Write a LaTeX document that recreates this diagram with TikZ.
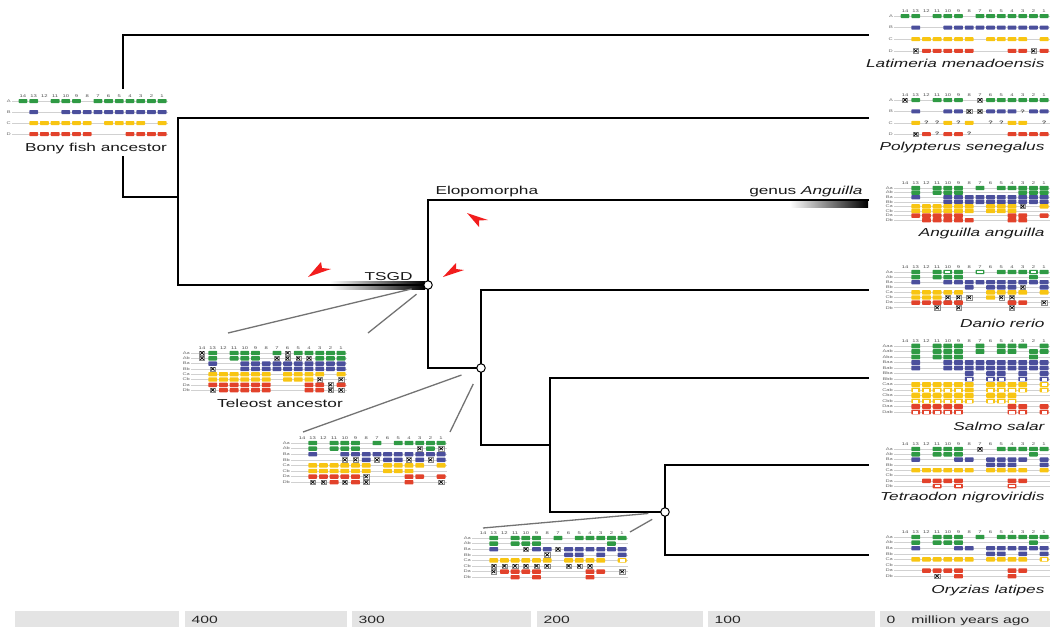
\documentclass[tikz,border=0pt]{standalone}
\usepackage{fontspec}
\newfontfamily\labfont[FakeStretch=1.5]{Liberation Sans}
\definecolor{geneA}{HTML}{2F9A44}
\definecolor{geneB}{HTML}{4B4F9C}
\definecolor{geneC}{HTML}{F8C512}
\definecolor{geneD}{HTML}{E2422B}
\definecolor{arrowred}{HTML}{F21D1D}
\definecolor{barbg}{HTML}{E4E4E4}
\begin{document}
\begin{tikzpicture}[x=1pt,y=-1pt,
    branch/.style={line width=2.2pt,line cap=rect},
    guide/.style={black!55,line width=1.3pt},
    tnode/.style={circle,draw,line width=1pt,fill=white,inner sep=0pt,minimum size=8.5pt},
    taxon/.style={font=\labfont\itshape\fontsize{11.5}{12}\selectfont,text=black!90,anchor=base east},
    clade/.style={font=\labfont\fontsize{11.5}{12}\selectfont,text=black!90},
    colnum/.style={font=\labfont\fontsize{3.9}{4}\selectfont,text=black!70,inner sep=0pt},
    rowlab/.style={font=\labfont\fontsize{3.8}{4}\selectfont,text=black!60,inner sep=0pt,anchor=east},
    rowline/.style={black!18,line width=0.5pt},
    cell/.style={rounded corners=0.7pt},
    axislab/.style={font=\labfont\fontsize{10.5}{11}\selectfont,text=black!85,anchor=base west}]
\useasboundingbox (0,0) rectangle (1054,627);
\def\dx{10.7}
\def\ch{2}
\def\genehead{\foreach \n [count=\k from 0] in {14,13,...,1}
    \node[colnum] at (\gx+\k*\dx,\gy-4.9) {\n};}
\def\generow#1#2#3#4{% row index, colour, label, codes for columns 14..1
  \pgfmathsetmacro\ry{\gy+#1*\gdy}
  \draw[rowline] (\gx-11,\ry) -- (\gx+13*\dx+6,\ry);
  \node[rowlab] at (\gx-12,\ry) {#3};
  \foreach \c [count=\k from 0] in {#4}{
    \pgfmathsetmacro\cx{\gx+\k*\dx}
    \ifcase\c\relax
    \or \fill[#2,cell] (\cx-4.4,\ry-\ch) rectangle (\cx+4.4,\ry+\ch);
    \or \draw[black!45,line width=0.3pt] (\cx-2.6,\ry-2.2) rectangle (\cx+2.6,\ry+2.2);
        \draw[line width=0.7pt] (\cx-1.8,\ry-1.6) -- (\cx+1.8,\ry+1.6) (\cx-1.8,\ry+1.6) -- (\cx+1.8,\ry-1.6);
    \or \node[font=\labfont\bfseries\fontsize{5}{5}\selectfont,inner sep=0pt,text=black!70] at (\cx,\ry) {?};
    \or \fill[#2,cell] (\cx-4.4,\ry-\ch) rectangle (\cx+4.4,\ry+\ch);
        \fill[white] (\cx-2.6,\ry-\ch+0.9) rectangle (\cx+2.6,\ry+\ch-0.9);
    \fi}}
% time axis
\foreach \a/\b in {15/179,185/347,352/531,537/703,708/875,880/1050}
  \fill[barbg] (\a,611) rectangle (\b,627);
\node[axislab] (t400) at (188,623) {400};
\node[axislab] (t300) at (355,623) {300};
\node[axislab] (t200) at (540,623) {200};
\node[axislab] (t100) at (711,623) {100};
\node[axislab] (t0) at (883,623) {0\hspace{16pt}million years ago};
%===========================================
% branch ends and internal nodes
\coordinate (tlat) at (868,35);
\coordinate (tpol) at (868,118);
\coordinate (tang) at (868,200);
\coordinate (tdan) at (868,290);
\coordinate (tsal) at (868,378);
\coordinate (ttet) at (868,465);
\coordinate (tory) at (868,555);
\coordinate (root) at (123,197);
\coordinate (bonytop) at (123,88);
\coordinate (n1) at (178,197);
\coordinate (n3) at (550,445);
\shade[left color=white,right color=black] (330,281) rectangle (425,289.5);
\shade[left color=white,right color=black] (790,199) rectangle (868,207);
\node[clade,anchor=base] (bony) at (96,151) {Bony fish ancestor};
\node[tnode] (tsgd) at (428,285) {};
\node[tnode] (n2) at (481,368) {};
\node[tnode] (n4) at (665,512) {};
\draw[branch] (tlat) -| (bonytop);
\draw[branch] (bony.south -| root) -- (root) -- (n1);
\draw[branch] (tpol) -| (n1) |- (tsgd);
\draw[branch] (tang) -| (tsgd);
\draw[branch] (tsgd) |- (n2);
\draw[branch] (tdan) -| (n2);
\draw[branch] (n2) |- (n3);
\draw[branch] (tsal) -| (n3) |- (n4);
\draw[branch] (ttet) -| (n4);
\draw[branch] (n4) |- (tory);
% labels on the tree
\node[clade,anchor=base west] (elo) at (432,194) {Elopomorpha};
\node[clade,anchor=base east] (genang) at (866,194) {genus \textit{Anguilla}};
\node[clade,anchor=base west] (tsgdlab) at (361,280) {TSGD};
\fill[arrowred] (308,277) -- (321,262) -- (322,268) -- (331,269) -- cycle;
\fill[arrowred] (443,277) -- (456,263) -- (456,269) -- (464,270) -- cycle;
\fill[arrowred] (467,213) -- (488,220) -- (479,220.5) -- (479,227) -- cycle;
% ancestral clusters hang from their nodes
\coordinate (ta1) at (228,333);
\coordinate (ta2) at (368,333);
\coordinate (nb1) at (303,432);
\coordinate (nb2) at (450,432);
\coordinate (nc1) at (483,528);
\coordinate (nc2) at (630,532);
\draw[guide,shorten <=12pt] (tsgd) -- (ta1);
\draw[guide,shorten <=10pt] (tsgd) -- (ta2);
\draw[guide,shorten <=16pt] (n2) -- (nb1);
\draw[guide,shorten <=13pt] (n2) -- (nb2);
\draw[guide,shorten <=12pt] (n4) -- (nc1);
\draw[guide,shorten <=10pt] (n4) -- (nc2);
% bony fish ancestor
\def\gx{23}\def\gy{101}\def\gdy{11}
\genehead
\generow{0}{geneA}{A}{1,1,0,1,1,1,0,1,1,1,1,1,1,1}
\generow{1}{geneB}{B}{0,1,0,0,1,1,1,1,1,1,1,1,1,1}
\generow{2}{geneC}{C}{0,1,1,1,1,1,1,0,1,1,1,1,0,1}
\generow{3}{geneD}{D}{0,1,1,1,1,1,1,0,0,0,1,1,1,1}
% Latimeria
\def\gx{905}\def\gy{16}\def\gdy{11.6}
\genehead
\generow{0}{geneA}{A}{1,1,0,1,1,1,0,1,1,1,1,1,1,1}
\generow{1}{geneB}{B}{0,1,0,0,1,1,1,1,1,1,1,1,1,1}
\generow{2}{geneC}{C}{0,1,1,1,1,1,1,0,1,1,1,1,0,1}
\generow{3}{geneD}{D}{0,2,1,1,1,1,1,0,0,0,1,1,2,1}
\node[taxon] (lat) at (1048,67) {Latimeria menadoensis};
% Polypterus
\def\gx{905}\def\gy{100}\def\gdy{11.4}
\genehead
\generow{0}{geneA}{A}{2,1,0,1,1,1,0,2,1,1,1,1,1,1}
\generow{1}{geneB}{B}{0,1,0,0,1,1,2,2,1,1,1,3,1,1}
\generow{2}{geneC}{C}{0,1,3,3,1,3,1,0,3,3,1,1,0,3}
\generow{3}{geneD}{D}{0,2,1,3,1,1,3,0,0,0,1,1,1,1}
\node[taxon] (pol) at (1048,150) {Polypterus senegalus};
% Anguilla
\def\ch{2.2}
\def\gx{905}\def\gy{188}\def\gdy{4.6}
\genehead
\generow{0}{geneA}{Aa}{0,1,0,1,1,1,0,1,0,1,1,1,1,1}
\generow{1}{geneA}{Ab}{0,1,0,1,1,1,0,0,0,0,0,1,1,1}
\generow{2}{geneB}{Ba}{0,1,0,0,1,1,1,1,1,1,1,1,1,1}
\generow{3}{geneB}{Bb}{0,0,0,0,1,1,1,1,1,1,1,1,1,1}
\generow{4}{geneC}{Ca}{0,1,1,1,1,1,1,0,1,1,1,2,0,1}
\generow{5}{geneC}{Cb}{0,1,1,1,1,1,1,0,1,1,1,0,0,0}
\generow{6}{geneD}{Da}{0,1,1,1,1,1,0,0,0,0,1,1,0,1}
\generow{7}{geneD}{Db}{0,0,1,1,1,1,1,0,0,0,1,1,0,0}
\node[taxon] (ang) at (1048,236) {Anguilla anguilla};
% Danio
\def\gx{905}\def\gy{272}\def\gdy{5.1}
\genehead
\generow{0}{geneA}{Aa}{0,1,0,1,4,1,0,4,0,1,1,1,4,1}
\generow{1}{geneA}{Ab}{0,1,0,1,1,1,0,0,0,0,0,0,1,0}
\generow{2}{geneB}{Ba}{0,1,0,0,1,1,1,1,1,1,1,1,1,1}
\generow{3}{geneB}{Bb}{0,0,0,0,0,0,1,0,1,1,1,2,0,1}
\generow{4}{geneC}{Ca}{0,1,1,1,1,1,0,0,1,1,1,1,0,1}
\generow{5}{geneC}{Cb}{0,1,1,1,2,2,2,0,1,2,2,0,0,0}
\generow{6}{geneD}{Da}{0,1,1,1,1,1,0,0,0,0,1,1,0,2}
\generow{7}{geneD}{Db}{0,0,0,2,0,2,0,0,0,0,2,0,0,0}
\node[taxon] (dan) at (1048,327) {Danio rerio};
% Salmo
\def\ch{2.4}
\def\gx{905}\def\gy{346}\def\gdy{5.5}
\genehead
\generow{0}{geneA}{Aaa}{0,1,0,1,1,1,0,1,0,1,1,1,0,1}
\generow{1}{geneA}{Aab}{0,1,0,1,1,1,0,1,0,1,1,0,1,1}
\generow{2}{geneA}{Aba}{0,1,0,1,1,1,0,0,0,0,0,0,1,0}
\generow{3}{geneB}{Baa}{0,1,0,0,1,1,1,1,1,1,1,1,1,1}
\generow{4}{geneB}{Bab}{0,1,0,0,1,1,1,1,1,1,1,1,1,1}
\generow{5}{geneB}{Bba}{0,0,0,0,0,0,1,0,1,1,0,1,0,1}
\generow{6}{geneB}{Bbb}{0,0,0,0,0,0,4,0,4,4,0,4,0,4}
\generow{7}{geneC}{Caa}{0,1,1,1,1,1,1,0,1,1,1,1,0,4}
\generow{8}{geneC}{Cab}{0,4,4,4,4,4,1,0,4,4,4,4,0,4}
\generow{9}{geneC}{Cba}{0,1,1,1,1,1,1,0,1,1,1,0,0,0}
\generow{10}{geneC}{Cbb}{0,4,4,4,4,4,4,0,4,4,4,0,0,0}
\generow{11}{geneD}{Daa}{0,1,1,1,1,1,0,0,0,0,1,1,0,1}
\generow{12}{geneD}{Dab}{0,4,4,4,4,4,0,0,0,0,4,4,0,4}
\node[taxon] (sal) at (1048,430) {Salmo salar};
% Tetraodon
\def\ch{2.2}
\def\gx{905}\def\gy{449}\def\gdy{5.3}
\genehead
\generow{0}{geneA}{Aa}{0,1,0,1,1,1,0,2,0,1,1,1,1,1}
\generow{1}{geneA}{Ab}{0,1,0,1,1,1,0,0,0,0,0,0,1,0}
\generow{2}{geneB}{Ba}{0,1,0,0,0,1,1,0,1,1,1,1,0,1}
\generow{3}{geneB}{Bb}{0,0,0,0,0,0,0,0,1,1,1,0,0,1}
\generow{4}{geneC}{Ca}{0,1,1,1,1,1,1,0,1,1,1,1,0,1}
\generow{5}{geneC}{Cb}{0,0,0,0,0,0,0,0,0,0,0,0,0,0}
\generow{6}{geneD}{Da}{0,0,1,1,1,1,0,0,0,0,1,1,0,0}
\generow{7}{geneD}{Db}{0,0,0,4,0,4,0,0,0,0,4,0,0,0}
\node[taxon] (tet) at (1048,500) {Tetraodon nigroviridis};
% Oryzias
\def\gx{905}\def\gy{537}\def\gdy{5.6}
\genehead
\generow{0}{geneA}{Aa}{0,1,0,1,1,1,0,1,0,1,1,1,1,1}
\generow{1}{geneA}{Ab}{0,1,0,1,1,1,0,0,0,0,0,0,1,0}
\generow{2}{geneB}{Ba}{0,1,0,0,0,1,1,0,1,1,1,1,1,1}
\generow{3}{geneB}{Bb}{0,0,0,0,0,0,0,0,1,1,0,1,0,1}
\generow{4}{geneC}{Ca}{0,1,1,1,1,1,1,0,1,1,1,1,0,4}
\generow{5}{geneC}{Cb}{0,0,0,0,0,0,0,0,0,0,0,0,0,0}
\generow{6}{geneD}{Da}{0,0,1,1,1,1,0,0,0,0,1,1,0,0}
\generow{7}{geneD}{Db}{0,0,0,2,0,1,0,0,0,0,1,0,0,0}
\node[taxon] (ory) at (1048,593) {Oryzias latipes};
% teleost ancestor
\def\gx{202}\def\gy{353}\def\gdy{5.3}
\genehead
\generow{0}{geneA}{Aa}{2,1,0,1,1,1,0,1,2,1,1,1,1,1}
\generow{1}{geneA}{Ab}{2,1,0,1,1,1,0,2,2,2,2,1,1,1}
\generow{2}{geneB}{Ba}{0,1,0,0,1,1,1,1,1,1,1,1,1,1}
\generow{3}{geneB}{Bb}{0,2,0,0,1,1,1,1,1,1,1,1,1,1}
\generow{4}{geneC}{Ca}{0,1,1,1,1,1,1,0,1,1,1,1,0,1}
\generow{5}{geneC}{Cb}{0,1,1,1,1,1,1,0,1,1,1,2,0,2}
\generow{6}{geneD}{Da}{0,1,1,1,1,1,1,0,0,0,1,1,2,1}
\generow{7}{geneD}{Db}{0,2,1,1,1,1,1,0,0,0,1,1,2,2}
\node[clade,anchor=base] (tele) at (280,407) {Teleost ancestor};
% ancestor at the second node
\def\gx{302}\def\gy{443}\def\gdy{5.6}
\genehead
\generow{0}{geneA}{Aa}{0,1,0,1,1,1,0,1,0,1,1,1,1,1}
\generow{1}{geneA}{Ab}{0,1,0,1,1,1,0,0,0,0,0,2,1,2}
\generow{2}{geneB}{Ba}{0,1,0,0,1,1,1,1,1,1,1,1,1,1}
\generow{3}{geneB}{Bb}{0,0,0,0,2,2,1,2,1,1,2,1,2,1}
\generow{4}{geneC}{Ca}{0,1,1,1,1,1,1,0,1,1,1,1,0,1}
\generow{5}{geneC}{Cb}{0,1,1,1,1,1,1,0,1,1,1,0,0,0}
\generow{6}{geneD}{Da}{0,1,1,1,1,1,2,0,0,0,1,1,0,1}
\generow{7}{geneD}{Db}{0,2,2,1,2,1,2,0,0,0,1,0,0,2}
% ancestor at the third node
\def\gx{483}\def\gy{538}\def\gdy{5.6}
\genehead
\generow{0}{geneA}{Aa}{0,1,0,1,1,1,0,1,0,1,1,1,1,1}
\generow{1}{geneA}{Ab}{0,1,0,1,1,1,0,0,0,0,0,0,1,0}
\generow{2}{geneB}{Ba}{0,1,0,0,2,1,1,2,1,1,1,1,1,1}
\generow{3}{geneB}{Bb}{0,0,0,0,0,0,2,0,1,1,0,1,0,1}
\generow{4}{geneC}{Ca}{0,1,1,1,1,1,1,0,1,1,1,1,0,4}
\generow{5}{geneC}{Cb}{0,2,2,2,2,2,2,0,2,2,2,0,0,0}
\generow{6}{geneD}{Da}{0,2,1,1,1,1,0,0,0,0,1,1,0,2}
\generow{7}{geneD}{Db}{0,0,0,1,0,1,0,0,0,0,1,0,0,0}
\end{tikzpicture}
\end{document}
